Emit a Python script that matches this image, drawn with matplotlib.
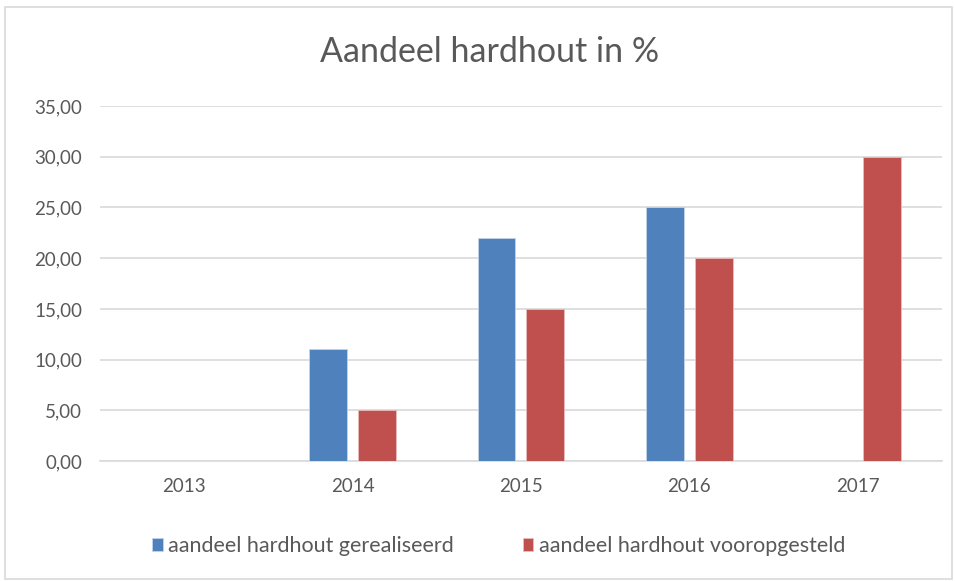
import matplotlib
matplotlib.use("Agg")
import matplotlib.pyplot as plt
from matplotlib.patches import Rectangle
import numpy as np

years = ["2013", "2014", "2015", "2016", "2017"]
gerealiseerd = [0, 11, 22, 25, 0]
vooropgesteld = [0, 5, 15, 20, 30]
series_names = ["aandeel hardhout gerealiseerd", "aandeel hardhout vooropgesteld"]
yticks = [0, 5, 10, 15, 20, 25, 30, 35]

plt.rcParams['font.family'] = ['Lato', 'DejaVu Sans']
txt = '#595959'

fig = plt.figure(figsize=(9.55, 5.81), dpi=100)
fig.patches.append(Rectangle((0.005, 0.004), 0.992, 0.984, transform=fig.transFigure,
                             fill=False, edgecolor='#D9D9D9', linewidth=1.2))
ax = fig.add_axes([0.105, 0.2065, 0.881, 0.611])

x = np.arange(len(years))
w = 0.225
off = 0.145
ax.bar(x - off, gerealiseerd, w, color='#4F81BD', edgecolor='#C5D4E8', linewidth=0.6,
       label=series_names[0], zorder=3)
ax.bar(x + off, vooropgesteld, w, color='#C0504D', edgecolor='#E6BDBC', linewidth=0.6,
       label=series_names[1], zorder=3)

ax.set_xlim(-0.5, len(years) - 0.5)
ax.set_ylim(0, 35)
ax.set_yticks(yticks)
ax.set_yticklabels([f"{v:.2f}".replace('.', ',') for v in yticks])
ax.set_xticks(x)
ax.set_xticklabels(years)
ax.yaxis.grid(True, color='#D9D9D9', linewidth=1.2, zorder=0)
ax.set_axisbelow(True)
for s in ['top', 'right', 'left']:
    ax.spines[s].set_visible(False)
ax.spines['bottom'].set_color('#D9D9D9')
ax.spines['bottom'].set_linewidth(1.2)
ax.tick_params(axis='both', length=0, colors=txt, labelsize=13.5)
ax.tick_params(axis='y', pad=13)
ax.tick_params(axis='x', pad=12)

fig.text(0.513, 0.91, "Aandeel hardhout in %", ha='center', va='center', fontsize=24.5, color=txt)

leg = fig.legend(loc='center', bbox_to_anchor=(0.522, 0.06), ncol=2, frameon=False,
                 fontsize=15.5, handlelength=0.5, handleheight=0.5, handletextpad=0.25,
                 columnspacing=3.2, labelcolor=txt)

fig.savefig("out.png", dpi=100)
